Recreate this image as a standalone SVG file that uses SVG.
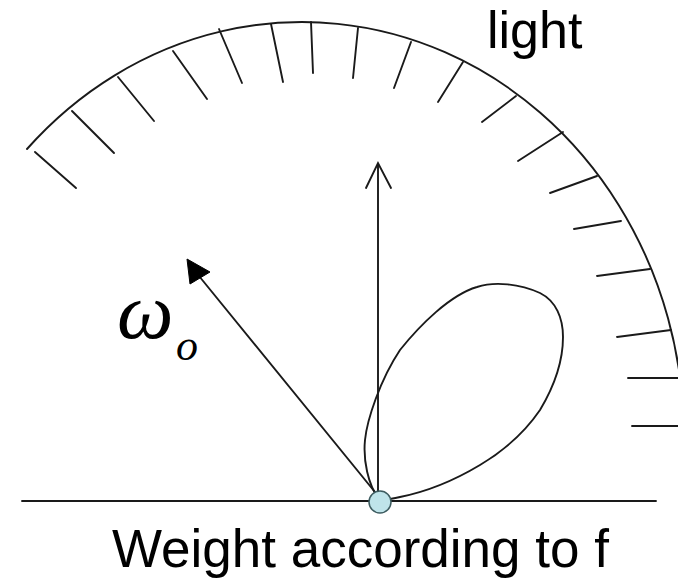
<svg xmlns="http://www.w3.org/2000/svg" width="678" height="585" viewBox="0 0 678 585">
<style>
.ln{stroke:#1a1a1a;stroke-width:1.9;fill:none;stroke-linecap:round}
.lbl{font-family:"Liberation Sans",Arial,sans-serif;fill:#000}
.math{font-family:"Liberation Serif","Times New Roman",serif;font-style:italic;fill:#000}
</style>
<rect width="678" height="585" fill="#fff"/>
<g id="hemisphere">
<path class="ln" d="M 27 149 A 382 415 0 0 1 684 437"/>
<g id="ticks">
<line class="ln" x1="35" y1="152" x2="76" y2="188"/>
<line class="ln" x1="72" y1="111" x2="114" y2="153"/>
<line class="ln" x1="118" y1="77" x2="154" y2="121"/>
<line class="ln" x1="173" y1="51" x2="207" y2="99"/>
<line class="ln" x1="219" y1="29" x2="242" y2="83"/>
<line class="ln" x1="271" y1="24" x2="283" y2="82"/>
<line class="ln" x1="311" y1="22" x2="313" y2="73"/>
<line class="ln" x1="358" y1="28" x2="353" y2="78"/>
<line class="ln" x1="411" y1="42" x2="394" y2="88"/>
<line class="ln" x1="463" y1="62" x2="438" y2="102"/>
<line class="ln" x1="516" y1="96" x2="482" y2="122"/>
<line class="ln" x1="563" y1="132" x2="518" y2="161"/>
<line class="ln" x1="597" y1="176" x2="550" y2="193"/>
<line class="ln" x1="621" y1="221" x2="574" y2="229"/>
<line class="ln" x1="650" y1="269" x2="597" y2="276"/>
<line class="ln" x1="671" y1="330" x2="617" y2="337"/>
<line class="ln" x1="628" y1="378" x2="680" y2="378"/>
<line class="ln" x1="632" y1="426" x2="680" y2="426"/>
</g>
</g>
<g id="surface">
<line class="ln" x1="22" y1="501" x2="656" y2="501"/>
</g>
<g id="lobe">
<path class="ln" d="M 379 499 C 368 485 363 460 365 440 C 367 420 380 380 400 350 C 420 325 450 295 477 287 C 495 281 520 284 540 293 C 556 301 563 318 563 337 C 563 360 555 385 540 410 C 525 432 505 450 480 465 C 455 480 425 492 400 497 C 392 499 385 500 379 499 Z"/>
</g>
<g id="connectors">
<line class="ln" x1="378" y1="499" x2="378" y2="164"/>
<polyline class="ln" points="366,188 378,163 391,188"/>
<line class="ln" x1="379" y1="497" x2="199" y2="276"/>
<polygon points="187,259 190,284 210,272" fill="#000" stroke="#000" stroke-width="1" stroke-linejoin="miter"/>
</g>
<g id="point">
<circle cx="380" cy="502" r="11" fill="#bfe4ea" stroke="#3d5c60" stroke-width="1.5"/>
</g>
<g id="labels">
<text class="lbl" x="487" y="48" font-size="52">light</text>
<text class="math" x="117" y="338" font-size="80">ω</text>
<text class="math" x="176" y="360" font-size="44">o</text>
<text class="lbl" x="112" y="567" font-size="53">Weight according to f</text>
</g>
</svg>
